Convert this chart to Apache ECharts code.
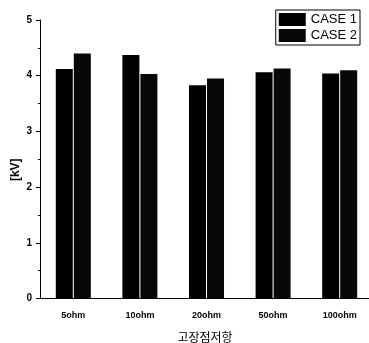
<!DOCTYPE html>
<html><head><meta charset="utf-8">
<script src="https://cdn.jsdelivr.net/npm/echarts@6/dist/echarts.min.js"></script>
<style>html,body{margin:0;padding:0;background:#fff}#c{width:369px;height:343px}</style>
</head><body><div id="c"></div>
<script>
const categories = ['5ohm', '10ohm', '20ohm', '50ohm', '100ohm'];
const case1 = [4.12, 4.37, 3.83, 4.06, 4.04];
const case2 = [4.40, 4.03, 3.95, 4.13, 4.10];
const yTicks = [0, 1, 2, 3, 4, 5];

const chart = echarts.init(document.getElementById('c'), null, {renderer: 'canvas'});
const font = '"Liberation Sans", Arial, sans-serif';
chart.setOption({
  animation: false,
  backgroundColor: '#fff',
  grid: {left: 40, top: 20, bottom: 44.5, right: -4, containLabel: false, outerBoundsMode: 'none'},
  legend: {
    orient: 'vertical', right: 9, top: 10,
    data: ['CASE 1', 'CASE 2'],
    itemWidth: 27, itemHeight: 13, itemGap: 3,
    borderColor: '#000', borderWidth: 1, padding: [3, 3, 3, 3],
    textStyle: {fontFamily: font, fontSize: 13, color: '#000'},
    icon: 'rect'
  },
  xAxis: [{
    type: 'category', data: categories,
    name: '고장점저항', nameLocation: 'middle', nameGap: 33, nameMoveOverlap: false,
    nameTextStyle: {fontFamily: '"Noto Sans CJK KR", sans-serif', fontSize: 12, color: '#000', padding: [0, 3, 0, 0]},
    axisLine: {lineStyle: {color: '#000', width: 1}},
    axisTick: {alignWithLabel: true, length: 5, lineStyle: {color: '#000'}},
    axisLabel: {fontFamily: font, fontSize: 9, color: '#000', fontWeight: 'bold', margin: 13}
  }, {
    type: 'category', data: categories, position: 'bottom',
    axisLine: {show: false},
    axisTick: {length: 2, lineStyle: {color: '#000'}},
    axisLabel: {show: false}
  }],
  yAxis: {
    type: 'value', min: 0, max: 5, interval: 1,
    name: '[kV]', nameLocation: 'middle', nameGap: 18, nameRotate: 90, nameMoveOverlap: false,
    nameTextStyle: {fontFamily: font, fontSize: 12, fontWeight: 'bold', color: '#000', padding: [0, 21, 0, 0]},
    axisLine: {show: true, lineStyle: {color: '#000', width: 1}},
    axisTick: {show: true, length: 4, lineStyle: {color: '#000'}},
    minorTick: {show: true, splitNumber: 2, length: 2, lineStyle: {color: '#000'}},
    splitLine: {show: false},
    axisLabel: {fontFamily: font, fontSize: 10, fontWeight: 'bold', color: '#000', margin: 8,
      formatter: v => yTicks.includes(v) ? String(v) : ''}
  },
  series: [
    {name: 'CASE 1', type: 'bar', data: case1, barWidth: 17, barGap: '6%',
     itemStyle: {color: '#000'}},
    {name: 'CASE 2', type: 'bar', data: case2, barWidth: 17,
     itemStyle: {color: '#080808'}}
  ]
});
</script></body></html>
